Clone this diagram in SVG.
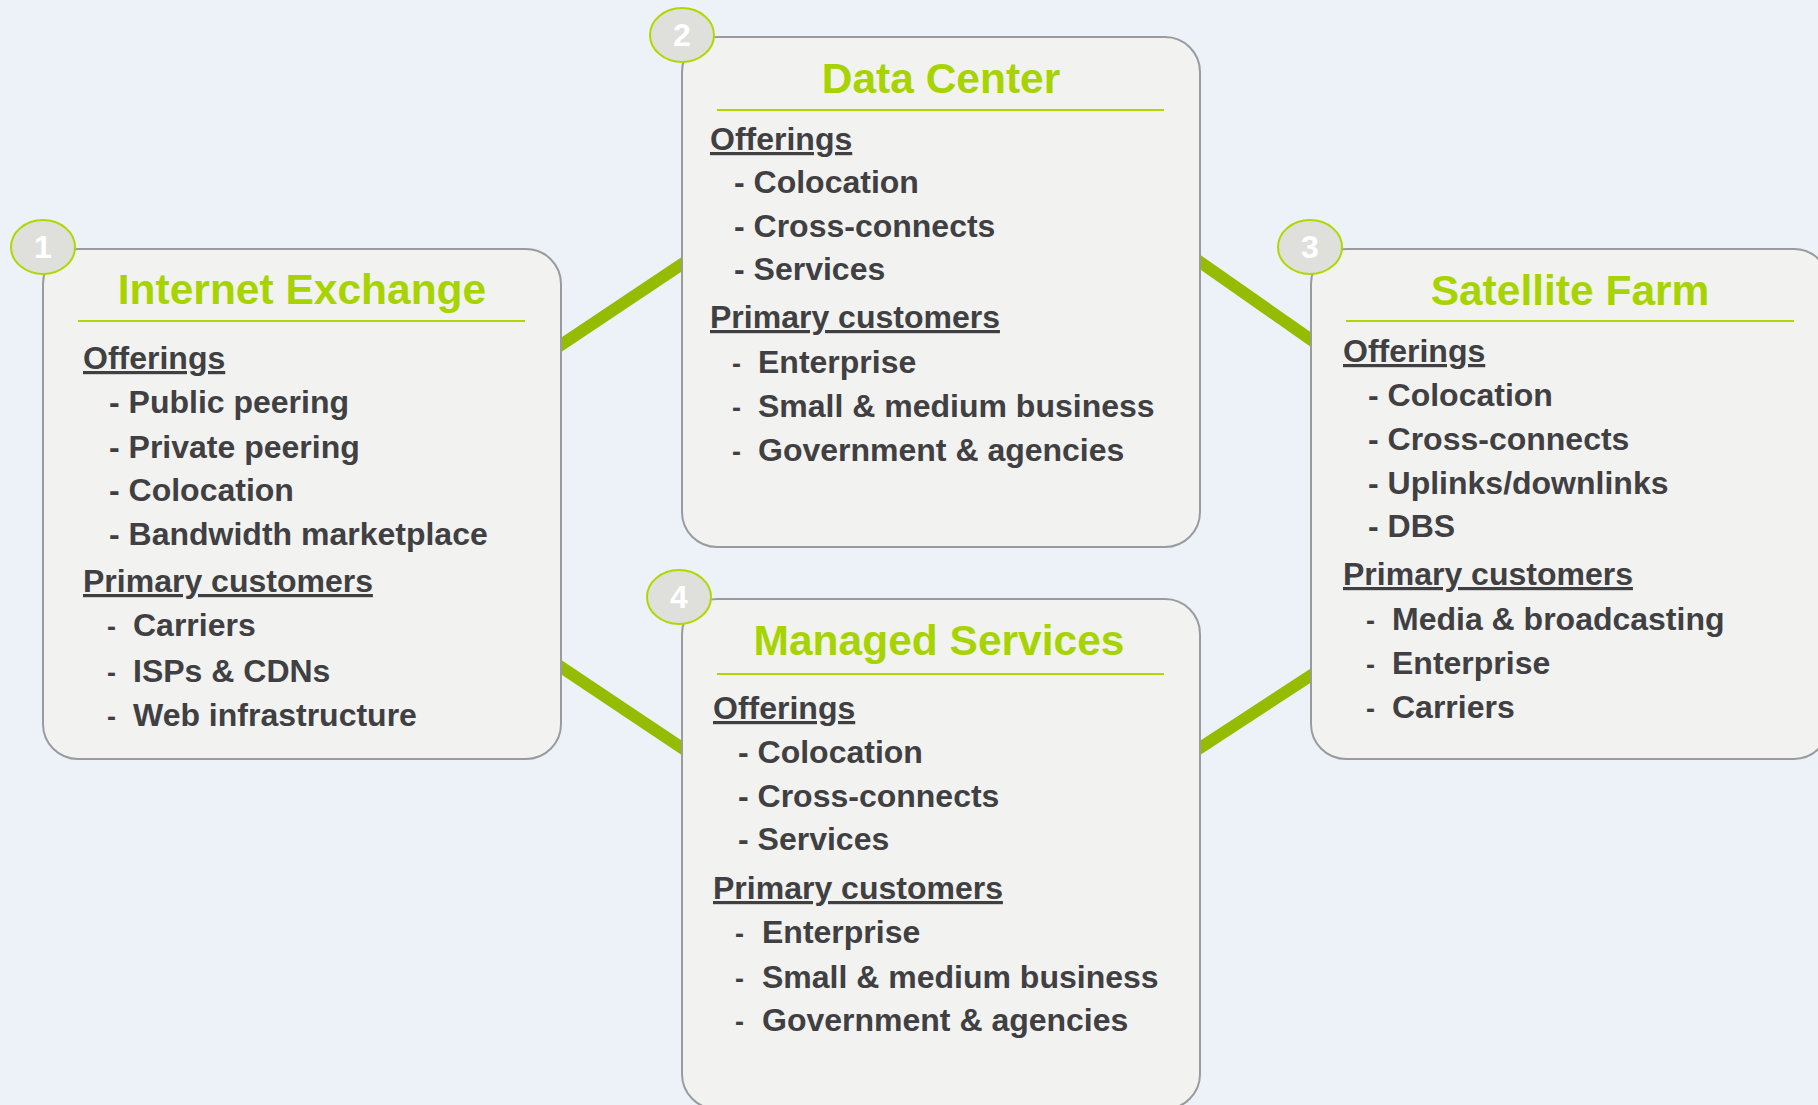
<svg xmlns="http://www.w3.org/2000/svg" width="1818" height="1105" viewBox="0 0 1818 1105">
<style>
.bg{fill:#edf2f9}
.box{fill:#f2f2f0;stroke:#999b9e;stroke-width:2}
.conn{stroke:#95bc00;stroke-width:12;fill:none}
.title{font-family:"Liberation Sans",Arial,sans-serif;font-weight:bold;font-size:42.5px;fill:#a7d400;text-anchor:middle}
.rule{stroke:#b0d800;stroke-width:2}
.t{font-family:"Liberation Sans",Arial,sans-serif;font-weight:bold;font-size:32px;fill:#404043}
.h{text-decoration:underline}
.d{font-family:"Liberation Sans",Arial,sans-serif;font-weight:bold;font-size:27px;fill:#404043}
.badge{fill:#dfe0dc;stroke:#b0d800;stroke-width:2}
.num{font-family:"Liberation Sans",Arial,sans-serif;font-weight:bold;font-size:32px;fill:#ffffff;text-anchor:middle}
</style>
<rect class="bg" x="0" y="0" width="1818" height="1105"/>
<g id="connectors">
<line class="conn" x1="540" y1="359" x2="700" y2="252"/>
<line class="conn" x1="1180" y1="248" x2="1330" y2="353"/>
<line class="conn" x1="540" y1="653" x2="700" y2="760"/>
<line class="conn" x1="1180" y1="761" x2="1330" y2="663"/>
</g>
<g id="node1">
<rect class="box" x="43" y="249" width="518" height="510" rx="35"/>
<text class="title" x="302" y="304">Internet Exchange</text>
<line class="rule" x1="78" y1="321" x2="525" y2="321"/>
<text class="t h" x="83" y="369">Offerings</text>
<text class="t" x="109" y="413">- Public peering</text>
<text class="t" x="109" y="458">- Private peering</text>
<text class="t" x="109" y="501">- Colocation</text>
<text class="t" x="109" y="545">- Bandwidth marketplace</text>
<text class="t h" x="83" y="592">Primary customers</text>
<text class="d" x="107" y="636">-</text><text class="t" x="133" y="636">Carriers</text>
<text class="d" x="107" y="682">-</text><text class="t" x="133" y="682">ISPs &amp; CDNs</text>
<text class="d" x="107" y="726">-</text><text class="t" x="133" y="726">Web infrastructure</text>
<ellipse class="badge" cx="43" cy="247" rx="32" ry="27"/>
<text class="num" x="43" y="258">1</text>
</g>
<g id="node2">
<rect class="box" x="682" y="37" width="518" height="510" rx="35"/>
<text class="title" x="941" y="93">Data Center</text>
<line class="rule" x1="717" y1="110" x2="1164" y2="110"/>
<text class="t h" x="710" y="150">Offerings</text>
<text class="t" x="734" y="193">- Colocation</text>
<text class="t" x="734" y="237">- Cross-connects</text>
<text class="t" x="734" y="280">- Services</text>
<text class="t h" x="710" y="328">Primary customers</text>
<text class="d" x="732" y="373">-</text><text class="t" x="758" y="373">Enterprise</text>
<text class="d" x="732" y="417">-</text><text class="t" x="758" y="417">Small &amp; medium business</text>
<text class="d" x="732" y="461">-</text><text class="t" x="758" y="461">Government &amp; agencies</text>
<ellipse class="badge" cx="682" cy="35" rx="32" ry="27"/>
<text class="num" x="682" y="46">2</text>
</g>
<g id="node3">
<rect class="box" x="1311" y="249" width="518" height="510" rx="35"/>
<text class="title" x="1570" y="305">Satellite Farm</text>
<line class="rule" x1="1346" y1="321" x2="1794" y2="321"/>
<text class="t h" x="1343" y="362">Offerings</text>
<text class="t" x="1368" y="406">- Colocation</text>
<text class="t" x="1368" y="450">- Cross-connects</text>
<text class="t" x="1368" y="494">- Uplinks/downlinks</text>
<text class="t" x="1368" y="537">- DBS</text>
<text class="t h" x="1343" y="585">Primary customers</text>
<text class="d" x="1366" y="630">-</text><text class="t" x="1392" y="630">Media &amp; broadcasting</text>
<text class="d" x="1366" y="674">-</text><text class="t" x="1392" y="674">Enterprise</text>
<text class="d" x="1366" y="718">-</text><text class="t" x="1392" y="718">Carriers</text>
<ellipse class="badge" cx="1310" cy="247" rx="32" ry="27"/>
<text class="num" x="1310" y="258">3</text>
</g>
<g id="node4">
<rect class="box" x="682" y="599" width="518" height="510" rx="35"/>
<text class="title" x="939" y="655">Managed Services</text>
<line class="rule" x1="717" y1="674" x2="1164" y2="674"/>
<text class="t h" x="713" y="719">Offerings</text>
<text class="t" x="738" y="763">- Colocation</text>
<text class="t" x="738" y="807">- Cross-connects</text>
<text class="t" x="738" y="850">- Services</text>
<text class="t h" x="713" y="899">Primary customers</text>
<text class="d" x="735" y="943">-</text><text class="t" x="762" y="943">Enterprise</text>
<text class="d" x="735" y="988">-</text><text class="t" x="762" y="988">Small &amp; medium business</text>
<text class="d" x="735" y="1031">-</text><text class="t" x="762" y="1031">Government &amp; agencies</text>
<ellipse class="badge" cx="679" cy="597" rx="32" ry="27"/>
<text class="num" x="679" y="608">4</text>
</g>
</svg>
